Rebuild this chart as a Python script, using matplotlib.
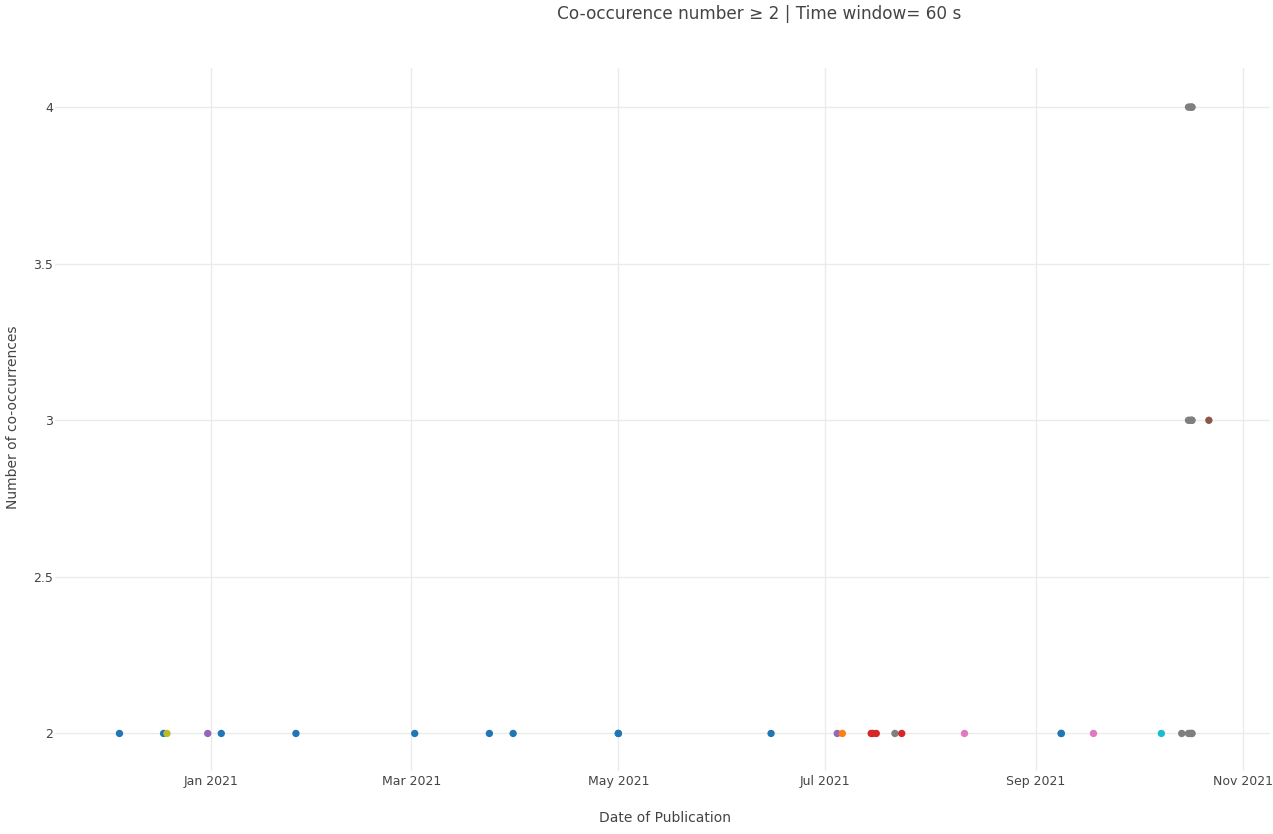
import matplotlib.pyplot as plt
import matplotlib.dates as mdates
import pandas as pd

# publication dates, co-occurrence counts and the group (colour) of each point
dates = ['2020-12-05', '2020-12-18', '2020-12-19', '2020-12-31', '2021-01-04',
         '2021-01-26', '2021-03-02', '2021-03-24', '2021-03-31', '2021-05-01',
         '2021-05-01', '2021-06-15', '2021-07-04 12:00', '2021-07-06', '2021-07-14 12:00',
         '2021-07-15', '2021-07-16', '2021-07-21 12:00', '2021-07-23 12:00', '2021-08-11',
         '2021-09-08 12:00', '2021-09-08 12:00', '2021-09-18', '2021-10-08', '2021-10-14',
         '2021-10-16', '2021-10-16 12:00', '2021-10-17', '2021-10-17', '2021-10-16',
         '2021-10-16 12:00', '2021-10-17', '2021-10-17', '2021-10-22', '2021-10-16',
         '2021-10-16 12:00', '2021-10-17', '2021-10-17']
counts = [2, 2, 2, 2, 2,
          2, 2, 2, 2, 2,
          2, 2, 2, 2, 2,
          2, 2, 2, 2, 2,
          2, 2, 2, 2, 2,
          2, 2, 2, 2, 3,
          3, 3, 3, 3, 4,
          4, 4, 4]
groups = ['tab:blue', 'tab:blue', 'tab:olive', 'tab:purple', 'tab:blue',
          'tab:blue', 'tab:blue', 'tab:blue', 'tab:blue', 'tab:blue',
          'tab:blue', 'tab:blue', 'tab:purple', 'tab:orange', 'tab:red',
          'tab:red', 'tab:red', 'tab:gray', 'tab:red', 'tab:pink',
          'tab:blue', 'tab:blue', 'tab:pink', 'tab:cyan', 'tab:gray',
          'tab:gray', 'tab:gray', 'tab:gray', 'tab:gray', 'tab:gray',
          'tab:gray', 'tab:gray', 'tab:gray', 'tab:brown', 'tab:gray',
          'tab:gray', 'tab:gray', 'tab:gray']

x = pd.to_datetime(dates, format='mixed')

fig = plt.figure(figsize=(12.73, 8.34), dpi=100)
ax = fig.add_axes([0.0432, 0.0755, 0.9544, 0.843])

ax.scatter(x, counts, c=groups, s=28, linewidths=0, zorder=3)

ax.set_xlim(pd.Timestamp('2020-11-16'), pd.Timestamp('2021-11-09'))
ax.set_ylim(1.88, 4.125)
ax.set_yticks([2, 2.5, 3, 3.5, 4])
ax.set_yticklabels(['2', '2.5', '3', '3.5', '4'])
ax.xaxis.set_major_locator(mdates.MonthLocator(bymonth=[1, 3, 5, 7, 9, 11]))
ax.xaxis.set_major_formatter(mdates.DateFormatter('%b %Y'))

ax.grid(True, color='#ebebeb', linewidth=1)
ax.set_axisbelow(True)
for s in ax.spines.values():
    s.set_visible(False)
ax.tick_params(length=0, labelsize=9, colors='#444444')
ax.tick_params(axis='x', pad=3)
ax.tick_params(axis='y', pad=1.5)

fig.text(0.0105, 0.5, 'Number of co-occurrences', rotation=90, ha='center', va='center',
         fontsize=10, color='#444444')
fig.text(0.522, 0.019, 'Date of Publication', ha='center', va='center',
         fontsize=10, color='#444444')
fig.text(0.596, 0.983, 'Co-occurence number \u2265 2 | Time window= 60 s', ha='center',
         va='center', fontsize=12.2, color='#444444')

fig.savefig('out.png', dpi=100)
